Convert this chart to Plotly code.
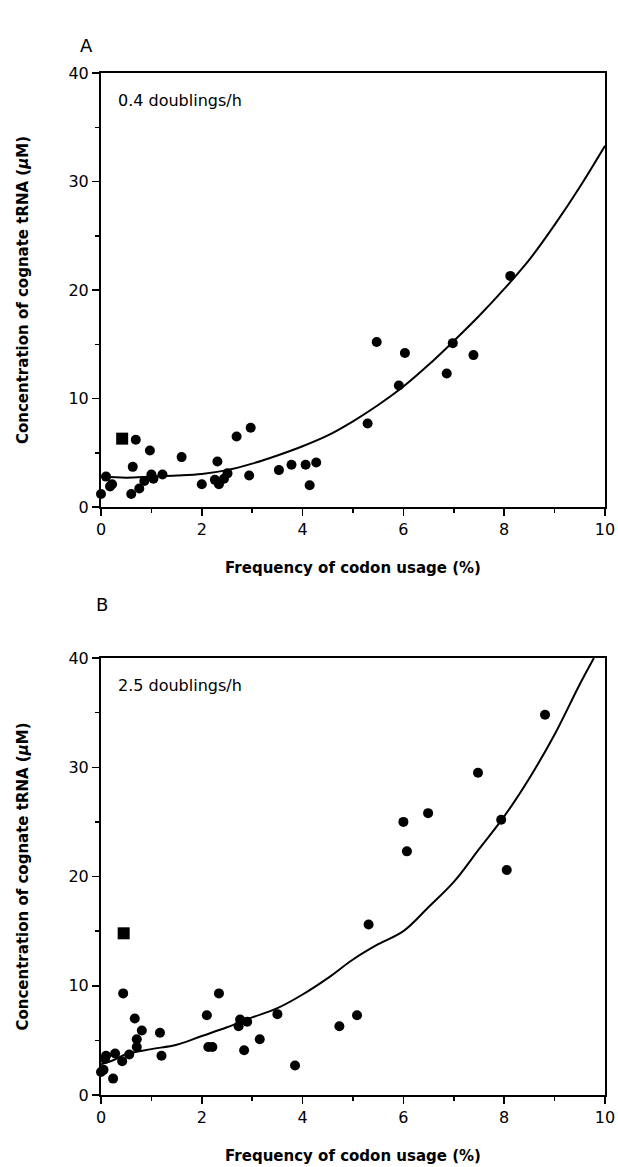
import plotly.graph_objects as go

# ---------------- Panel A (0.4 doublings/h) ----------------
a_x = [0.0, 0.1, 0.18, 0.22, 0.6, 0.63, 0.69, 0.76, 0.86, 0.97, 1.0, 1.04, 1.22,
       1.6, 2.0, 2.26, 2.31, 2.34, 2.44, 2.51, 2.69, 2.94, 2.97, 3.53, 3.78,
       4.06, 4.14, 4.27, 5.29, 5.47, 5.91, 6.03, 6.86, 6.98, 7.39, 8.12]
a_y = [1.2, 2.8, 1.9, 2.1, 1.2, 3.7, 6.2, 1.7, 2.4, 5.2, 3.0, 2.6, 3.0,
       4.6, 2.1, 2.5, 4.2, 2.1, 2.6, 3.1, 6.5, 2.9, 7.3, 3.4, 3.9,
       3.9, 2.0, 4.1, 7.7, 15.2, 11.2, 14.2, 12.3, 15.1, 14.0, 21.3]
a_sq_x = [0.42]
a_sq_y = [6.3]
a_fit_x = [0, 0.5, 1, 1.5, 2, 2.5, 3, 3.5, 4, 4.5, 5, 5.5, 6, 6.5, 7, 7.5, 8,
           8.5, 9, 9.5, 10]
a_fit_y = [2.8, 2.7, 2.8, 2.9, 3.05, 3.4, 4.0, 4.75, 5.6, 6.6, 7.9, 9.4, 11.1,
           13.1, 15.3, 17.6, 20.1, 22.8, 26.0, 29.5, 33.3]

# ---------------- Panel B (2.5 doublings/h) ----------------
b_x = [0.0, 0.05, 0.08, 0.1, 0.24, 0.28, 0.42, 0.44, 0.56, 0.67, 0.71, 0.71,
       0.81, 1.17, 1.2, 2.1, 2.13, 2.21, 2.34, 2.73, 2.76, 2.84, 2.9, 3.15,
       3.5, 3.85, 4.73, 5.08, 5.31, 6.0, 6.07, 6.49, 7.48, 7.94, 8.05, 8.81]
b_y = [2.1, 2.3, 3.3, 3.6, 1.5, 3.8, 3.1, 9.3, 3.7, 7.0, 5.1, 4.4,
       5.9, 5.7, 3.6, 7.3, 4.4, 4.4, 9.3, 6.3, 6.9, 4.1, 6.7, 5.1,
       7.4, 2.7, 6.3, 7.3, 15.6, 25.0, 22.3, 25.8, 29.5, 25.2, 20.6, 34.8]
b_sq_x = [0.45]
b_sq_y = [14.8]
b_fit_x = [0, 0.25, 0.5, 1, 1.5, 2, 2.5, 3, 3.5, 4, 4.5, 5, 5.5, 6, 6.5, 7,
           7.5, 8, 8.5, 9, 9.5, 9.78]
b_fit_y = [2.8, 3.2, 3.75, 4.2, 4.6, 5.4, 6.2, 7.1, 7.95, 9.2, 10.7, 12.4,
           13.8, 15.0, 17.2, 19.5, 22.5, 25.5, 29.0, 33.0, 37.6, 40.0]

x_ticks = [0, 2, 4, 6, 8, 10]
y_ticks = [0, 10, 20, 30, 40]

FONT = "DejaVu Sans"
W, H = 618, 1167

fig = go.Figure()

def add_panel(xs, ys, sqx, sqy, fx, fy, xa, ya):
    fig.add_trace(go.Scatter(x=fx, y=fy, mode="lines",
                             line=dict(color="black", width=2, shape="spline"),
                             xaxis=xa, yaxis=ya, showlegend=False,
                             hoverinfo="skip"))
    fig.add_trace(go.Scatter(x=xs, y=ys, mode="markers",
                             marker=dict(color="black", size=10, symbol="circle"),
                             xaxis=xa, yaxis=ya, showlegend=False,
                             cliponaxis=False))
    fig.add_trace(go.Scatter(x=sqx, y=sqy, mode="markers",
                             marker=dict(color="black", size=12, symbol="square"),
                             xaxis=xa, yaxis=ya, showlegend=False,
                             cliponaxis=False))

add_panel(a_x, a_y, a_sq_x, a_sq_y, a_fit_x, a_fit_y, "x", "y")
add_panel(b_x, b_y, b_sq_x, b_sq_y, b_fit_x, b_fit_y, "x2", "y2")

def px_dom(top, bottom):
    return [1 - bottom / H, 1 - top / H]

xcommon = dict(range=[0, 10], tickvals=x_ticks, showgrid=False, zeroline=False,
               showline=True, linecolor="black", linewidth=2, mirror=True,
               ticks="outside", ticklen=7, tickwidth=1.5, tickcolor="black",
               minor=dict(ticks="outside", ticklen=4, dtick=1, tickwidth=1.5,
                          tickcolor="black"),
               tickfont=dict(family=FONT, size=16, color="black"),
               domain=[101 / W, 1 - 13 / W], automargin=False)
ycommon = dict(range=[0, 40], tickvals=y_ticks, showgrid=False, zeroline=False,
               showline=True, linecolor="black", linewidth=2, mirror=True,
               ticks="outside", ticklen=7, tickwidth=1.5, tickcolor="black",
               minor=dict(ticks="outside", ticklen=4, dtick=5, tickwidth=1.5,
                          tickcolor="black"),
               tickfont=dict(family=FONT, size=16, color="black"),
               automargin=False)

xt = dict(text="<b>Frequency of codon usage (%)</b>",
          font=dict(family=FONT, size=15, color="black"), standoff=24)
yt = dict(text="<b>Concentration of cognate tRNA (<i>μ</i>M)</b>",
          font=dict(family=FONT, size=15, color="black"), standoff=36)

fig.update_layout(
    width=W, height=H,
    margin=dict(l=0, r=0, t=0, b=0),
    paper_bgcolor="white", plot_bgcolor="white",
    hovermode=False,
    xaxis=dict(**xcommon, anchor="y", title=xt),
    yaxis=dict(**ycommon, anchor="x", domain=px_dom(73, 507), title=yt),
    xaxis2=dict(**xcommon, anchor="y2", title=xt),
    yaxis2=dict(**ycommon, anchor="x2", domain=px_dom(658, 1095), title=yt),
    annotations=[
        dict(text="0.4 doublings/h", x=0.3, y=37.5, xref="x", yref="y",
             xanchor="left", yanchor="middle", showarrow=False,
             font=dict(family=FONT, size=16, color="black")),
        dict(text="2.5 doublings/h", x=0.3, y=37.5, xref="x2", yref="y2",
             xanchor="left", yanchor="middle", showarrow=False,
             font=dict(family=FONT, size=16, color="black")),
        dict(text="A", x=86 / W, y=1 - 45 / H, xref="paper", yref="paper",
             xanchor="center", yanchor="middle", showarrow=False,
             font=dict(family=FONT, size=18, color="black")),
        dict(text="B", x=102 / W, y=1 - 604 / H, xref="paper", yref="paper",
             xanchor="center", yanchor="middle", showarrow=False,
             font=dict(family=FONT, size=18, color="black")),
    ],
)

fig.write_html("out.html",
               config={"displayModeBar": False, "staticPlot": True},
               post_script="document.body.style.margin='0px';document.body.style.overflow='hidden';")
